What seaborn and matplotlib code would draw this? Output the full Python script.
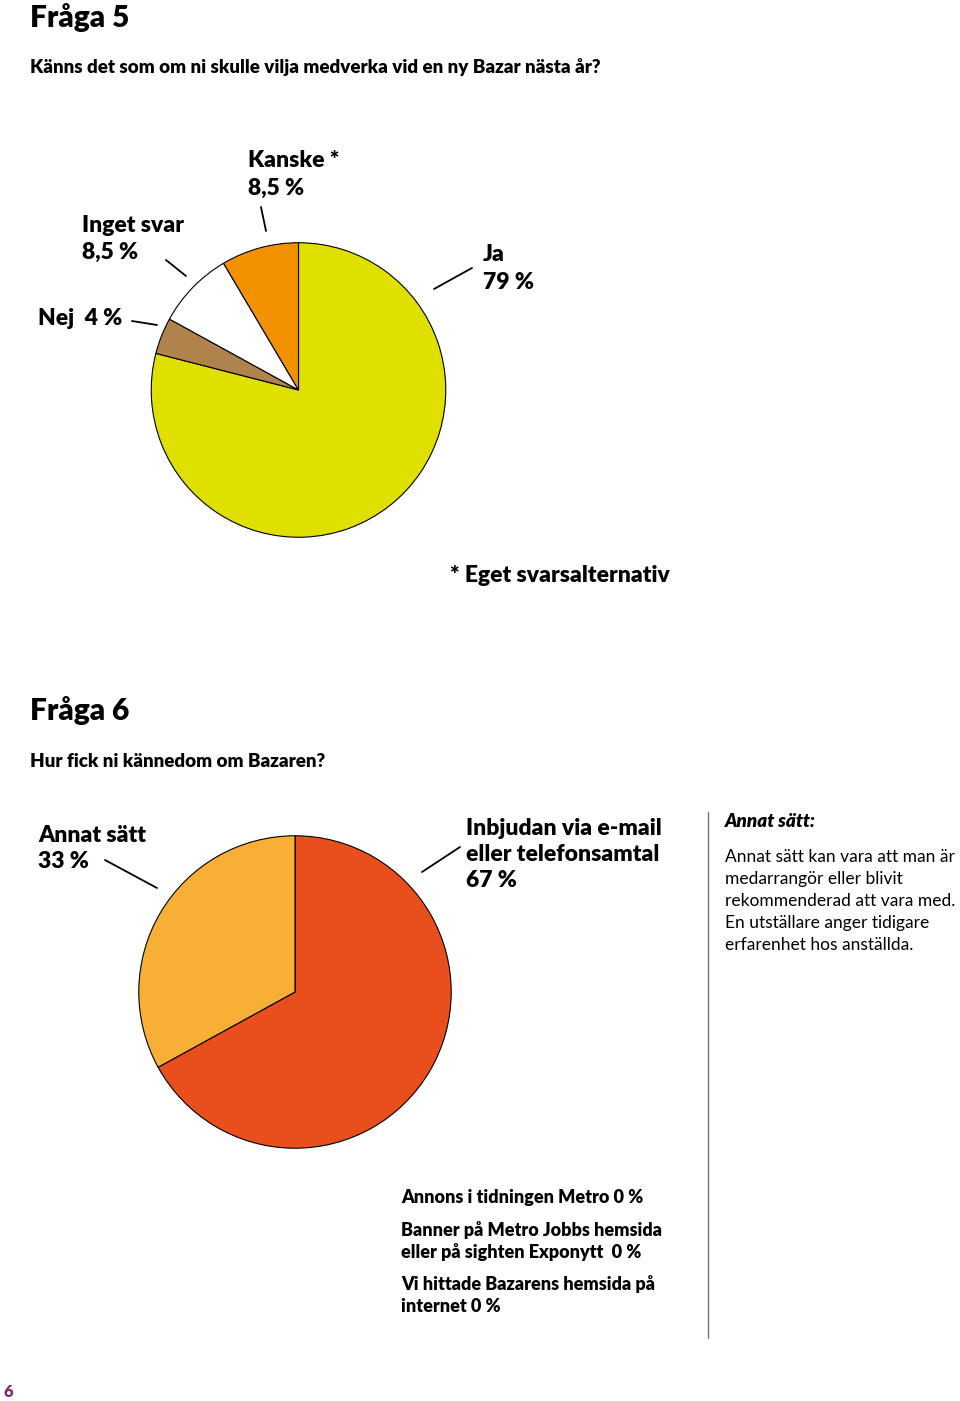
import matplotlib
matplotlib.use("Agg")
import matplotlib.pyplot as plt
import seaborn as sns
from matplotlib.lines import Line2D

sns.set_theme(style="white")
plt.rcParams['font.family'] = ['Lato', 'DejaVu Sans']

W, H = 960, 1401

# ---- data ----
q5_labels = ["Ja", "Nej", "Inget svar", "Kanske *"]
q5_values = [79, 4, 8.5, 8.5]
q5_colors = ["#DFDF00", "#B1834C", "#FFFFFF", "#F39200"]

q6_labels = ["Inbjudan via e-mail\neller telefonsamtal", "Annat sätt"]
q6_values = [67, 33]
q6_colors = ["#E84F1D", "#F7B035"]

q6_zero_labels = ["Annons i tidningen Metro", "Banner på Metro Jobbs hemsida\neller på sighten Exponytt ",
                  "Vi hittade Bazarens hemsida på\ninternet"]
q6_zero_values = [0, 0, 0]

def pct(v):
    return f"{v:g}".replace(".", ",") + " %"

fig = plt.figure(figsize=(W / 100, H / 100), dpi=100)
fig.patch.set_facecolor("white")

def T(x, y, s, size, weight=800, style="normal", color="black", step=26):
    for i, line in enumerate(s.split("\n")):
        fig.text(x / W, 1 - (y + i * step) / H, line, fontsize=size, fontweight=weight,
                 fontstyle=style, color=color, va="baseline", ha="left")

def L(x0, y0, x1, y1, color="black", lw=1.3):
    fig.add_artist(Line2D([x0 / W, x1 / W], [1 - y0 / H, 1 - y1 / H], color=color, lw=lw))

def pie_axes(cx, cy, r):
    ax = fig.add_axes([(cx - r) / W, 1 - (cy + r) / H, 2 * r / W, 2 * r / H])
    ax.set_axis_off()
    return ax

LBL = 16.5

# ---- Fråga 5 ----
T(30, 27, "Fråga 5", 21.5, weight=800)
T(30, 73, "Känns det som om ni skulle vilja medverka vid en ny Bazar nästa år?", 13.5, weight=800)

ax1 = pie_axes(298.5, 390, 148)
ax1.pie(q5_values, colors=q5_colors, startangle=90, counterclock=False,
        wedgeprops=dict(edgecolor="black", linewidth=0.8))
ax1.set_xlim(-1.005, 1.005)
ax1.set_ylim(-1.005, 1.005)

T(248, 167, f"{q5_labels[3]}\n{pct(q5_values[3])}", LBL, step=28)
T(82, 232, f"{q5_labels[2]}\n{pct(q5_values[2])}", LBL, step=27)
T(483, 261, f"{q5_labels[0]}\n{pct(q5_values[0])}", LBL, step=28)
T(38, 325, f"{q5_labels[1]}  {pct(q5_values[1])}", LBL)
L(261, 207, 266, 231)
L(166, 260, 186, 276)
L(472, 268, 434, 289)
L(132, 321, 157, 325)

T(450, 582, "* Eget svarsalternativ", LBL)

# ---- Fråga 6 ----
T(30, 720, "Fråga 6", 21.5, weight=800)
T(30, 767, "Hur fick ni kännedom om Bazaren?", 13.5, weight=800)

ax2 = pie_axes(295, 992, 157)
ax2.pie(q6_values, colors=q6_colors, startangle=90, counterclock=False,
        wedgeprops=dict(edgecolor="black", linewidth=0.8))
ax2.set_xlim(-1.005, 1.005)
ax2.set_ylim(-1.005, 1.005)

T(38, 842, f"{q6_labels[1]}\n{pct(q6_values[1])}", LBL, step=26)
T(466, 835, f"{q6_labels[0]}\n{pct(q6_values[0])}", LBL, step=26)
L(105, 860, 157, 888)
L(460, 847, 422, 872)

# side note
L(708, 812, 708, 1338, color="#777777", lw=1.0)
T(725, 827, "Annat sätt:", 13.5, weight=800, style="italic")
T(725, 862, "Annat sätt kan vara att man är\nmedarrangör eller blivit\nrekommenderad att vara med.\n"
            "En utställare anger tidigare\nerfarenhet hos anställda.", 12.5, weight=400, step=22)

ys = [1203, 1236, 1290]
for y, lab, v in zip(ys, q6_zero_labels, q6_zero_values):
    T(401, y, f"{lab} {pct(v)}", 13, weight=800, step=22)

T(3, 1397, "6", 12, weight=800, color="#7B2D72")

fig.savefig("out.png", dpi=100, facecolor="white")
